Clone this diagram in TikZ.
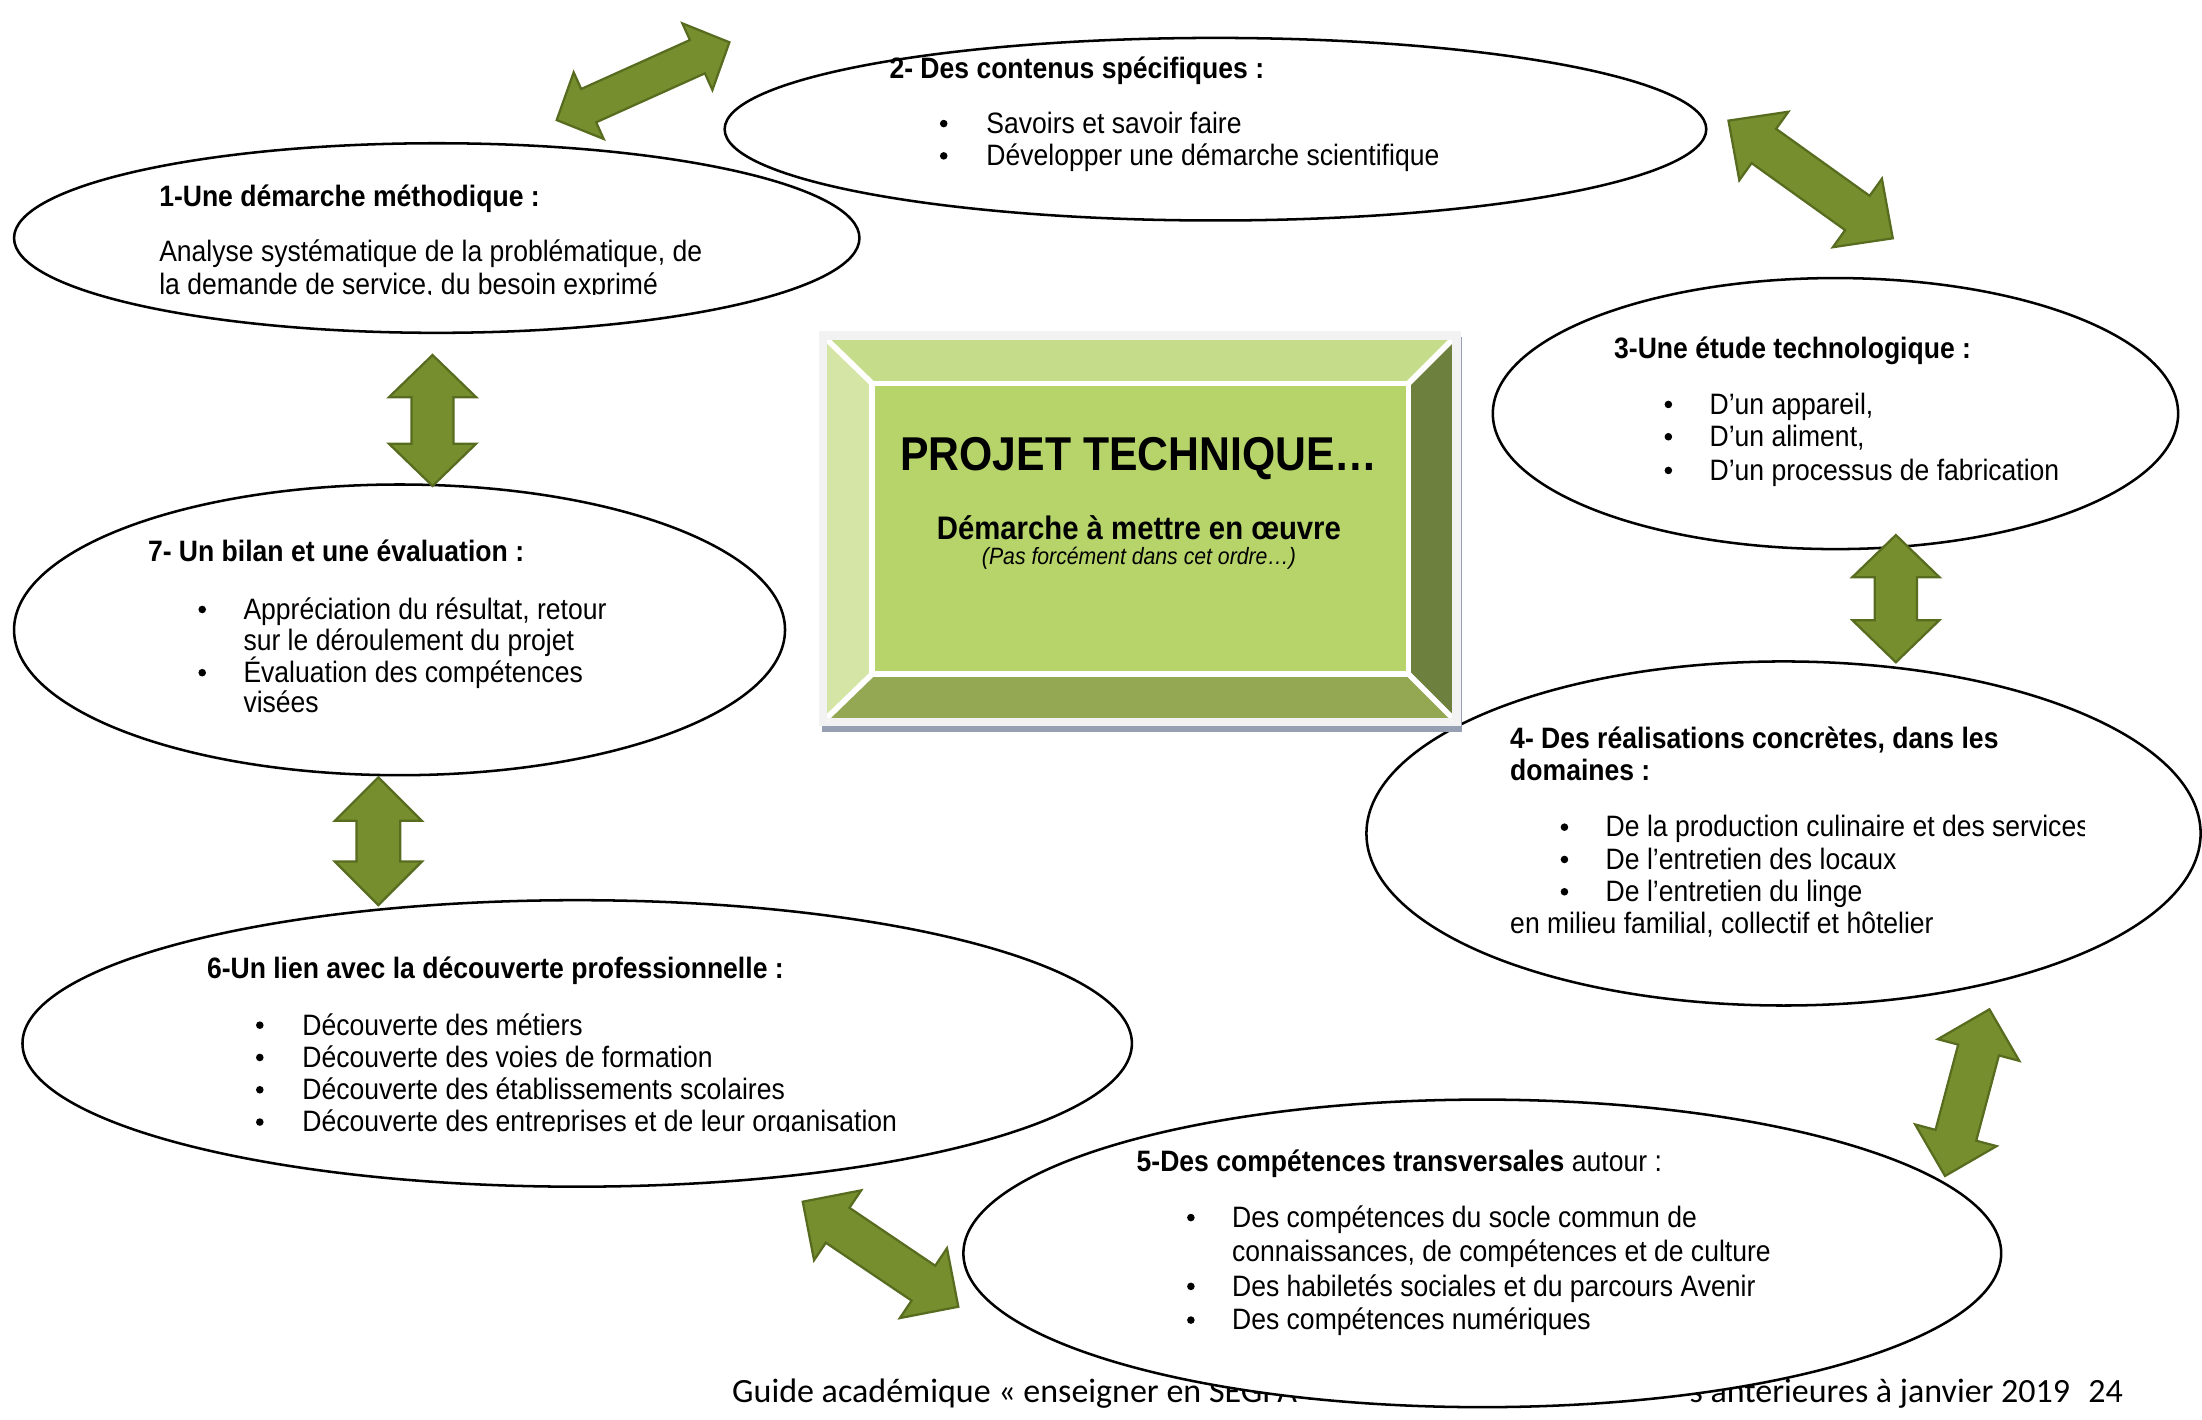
\documentclass[tikz,border=0pt]{standalone}
\usepackage{fontspec}
\setmainfont{Liberation Sans}[FakeStretch=0.9]
\newfontfamily\footfont{Carlito}
\usetikzlibrary{calc,shapes.geometric}

\definecolor{arrowfill}{RGB}{118,142,45}
\definecolor{arrowline}{RGB}{88,108,32}
\definecolor{bevtop}{RGB}{197,220,138}
\definecolor{bevleft}{RGB}{212,229,166}
\definecolor{bevright}{RGB}{110,128,62}
\definecolor{bevbottom}{RGB}{148,168,84}
\definecolor{bevface}{RGB}{182,212,106}
\definecolor{frameband}{RGB}{242,242,242}
\definecolor{frameshadow}{RGB}{150,160,178}

% double block arrow between two tips: #1,#2 tips, #3 head length, #4 half head width, #5 half shaft width
\newcommand\blockarrow[5]{%
  \coordinate (ba-p) at ($(#1)!#3!(#2)$);
  \coordinate (ba-q) at ($(#2)!#3!(#1)$);
  \filldraw[arrowstyle] (#1) -- ($(ba-p)!#4!90:(#2)$) -- ($(ba-p)!#5!90:(#2)$)
    -- ($(ba-q)!#5!-90:(#1)$) -- ($(ba-q)!#4!-90:(#1)$) -- (#2)
    -- ($(ba-q)!#4!90:(#1)$) -- ($(ba-q)!#5!90:(#1)$)
    -- ($(ba-p)!#5!-90:(#2)$) -- ($(ba-p)!#4!-90:(#2)$) -- cycle;}

\tikzset{
  bubble/.style={ellipse, draw=black, line width=0.9pt, fill=white, inner sep=0pt},
  arrowstyle/.style={fill=arrowfill, draw=arrowline, line width=0.8pt, line join=miter},
  txt/.style={anchor=base west, inner sep=0pt, font=\fontsize{10.5}{12}\selectfont},
  txtb/.style={anchor=base west, inner sep=0pt, font=\fontsize{10.5}{12}\selectfont\bfseries},
  bul/.style={circle, fill=black, inner sep=0pt, minimum size=2.7pt, yshift=3.5pt},
}

\begin{document}
\begin{tikzpicture}[x=0.5pt,y=-0.5pt]
\useasboundingbox (0,0) rectangle (1568,1011);
\fill[white] (0,0) rectangle (1568,1011);

% page footer, partly hidden behind bubble 5
\node[anchor=base west, inner sep=0pt, font=\footfont\fontsize{12.1}{14}\selectfont] (footl) at (521,999) {Guide académique « enseigner en SEGPA »};
\node[anchor=base east, inner sep=0pt, font=\footfont\fontsize{12.1}{14}\selectfont] (footr) at (1512,999) {s antérieures à janvier 2019\hspace{6.5pt}24};

% bubbles
\node[bubble, minimum width=301pt, minimum height=67.5pt] (e1) at (311,169.5) {};
\node[bubble, minimum width=349.5pt, minimum height=65pt] (e2) at (865.5,92) {};
\node[bubble, minimum width=244pt, minimum height=96.5pt] (e3) at (1307,294.5) {};
\node[bubble, minimum width=297pt, minimum height=122.5pt] (e4) at (1270,593.5) {};
\node[bubble, minimum width=369.5pt, minimum height=109.5pt] (e5) at (1055.5,892.5) {};
\node[bubble, minimum width=395pt, minimum height=102pt] (e6) at (411,743) {};
\node[bubble, minimum width=274.5pt, minimum height=103.5pt] (e7) at (284.5,448.5) {};

% 1
\node[txtb] (e1-t) at (113,147) {1-Une démarche méthodique :};
\node[txt] (e1-1) at (113,186) {Analyse systématique de la problématique, de};
\begin{scope}
  \clip (100,180) rectangle (560,210);
  \node[txt] (e1-2) at (113,210) {la demande de service, du besoin exprimé};
\end{scope}

% 2
\node[txtb] (e2-t) at (633,56) {2- Des contenus spécifiques :};
\node[bul] (e2-b1) at (672,95) {};
\node[txt] (e2-1) at (702,95) {Savoirs et savoir faire};
\node[bul] (e2-b2) at (672,118) {};
\node[txt] (e2-2) at (702,118) {Développer une démarche scientifique};

% 3
\node[txtb] (e3-t) at (1149,255) {3-Une étude technologique :};
\node[bul] (e3-b1) at (1188,295) {};
\node[txt] (e3-1) at (1217,295) {D’un appareil,};
\node[bul] (e3-b2) at (1188,318) {};
\node[txt] (e3-2) at (1217,318) {D’un aliment,};
\node[bul] (e3-b3) at (1188,342) {};
\node[txt] (e3-3) at (1217,342) {D’un processus de fabrication};

% 4
\node[txtb] (e4-t1) at (1075,533) {4- Des réalisations concrètes, dans les};
\node[txtb] (e4-t2) at (1075,556) {domaines :};
\node[bul] (e4-b1) at (1114,596) {};
\begin{scope}
  \clip (1130,570) rectangle (1484,605);
  \node[txt] (e4-1) at (1143,596) {De la production culinaire et des services};
\end{scope}
\node[bul] (e4-b2) at (1114,619) {};
\node[txt] (e4-2) at (1143,619) {De l’entretien des locaux};
\node[bul] (e4-b3) at (1114,642) {};
\node[txt] (e4-3) at (1143,642) {De l’entretien du linge};
\node[txt] (e4-4) at (1075,665) {en milieu familial, collectif et hôtelier};

% 5
\node[txt] (e5-t) at (809,834) {\bfseries 5-Des compétences transversales\mdseries{} autour :};
\node[bul] (e5-b1) at (848,874) {};
\node[txt] (e5-1) at (877,874) {Des compétences du socle commun de};
\node[txt] (e5-2) at (877,898) {connaissances, de compétences et de culture};
\node[bul] (e5-b3) at (848,923) {};
\node[txt] (e5-3) at (877,923) {Des habiletés sociales et du parcours Avenir};
\node[bul] (e5-b4) at (848,947) {};
\node[txt] (e5-4) at (877,947) {Des compétences numériques};

% 6
\node[txtb] (e6-t) at (147,697) {6-Un lien avec la découverte professionnelle :};
\node[bul] (e6-b1) at (185,737) {};
\node[txt] (e6-1) at (215,737) {Découverte des métiers};
\node[bul] (e6-b2) at (185,760) {};
\node[txt] (e6-2) at (215,760) {Découverte des voies de formation};
\node[bul] (e6-b3) at (185,783) {};
\node[txt] (e6-3) at (215,783) {Découverte des établissements scolaires};
\node[bul] (e6-b4) at (185,806) {};
\begin{scope}
  \clip (200,785) rectangle (700,806);
  \node[txt] (e6-4) at (215,806) {Découverte des entreprises et de leur organisation};
\end{scope}

% 7
\node[txtb] (e7-t) at (105,400) {7- Un bilan et une évaluation :};
\node[bul] (e7-b1) at (144,441) {};
\node[txt] (e7-1) at (173,441) {Appréciation du résultat, retour};
\node[txt] (e7-2) at (173,463) {sur le déroulement du projet};
\node[bul] (e7-b3) at (144,486) {};
\node[txt] (e7-3) at (173,486) {Évaluation des compétences};
\node[txt] (e7-4) at (173,507) {visées};

% central bevelled panel
\fill[frameshadow] (585,240) rectangle (1041,521);
\fill[frameband] (583,236) rectangle (1040,517);
\coordinate (o1) at (588,241); \coordinate (o2) at (1035,241);
\coordinate (o3) at (1035,512); \coordinate (o4) at (588,512);
\coordinate (i1) at (621,273); \coordinate (i2) at (1003,273);
\coordinate (i3) at (1003,480); \coordinate (i4) at (621,480);
\fill[bevtop] (o1) -- (o2) -- (i2) -- (i1) -- cycle;
\fill[bevleft] (o1) -- (i1) -- (i4) -- (o4) -- cycle;
\fill[bevright] (o2) -- (o3) -- (i3) -- (i2) -- cycle;
\fill[bevbottom] (o4) -- (i4) -- (i3) -- (o3) -- cycle;
\fill[bevface] (i1) rectangle (i3);
\draw[white, line width=2pt] (i1) rectangle (i3);
\draw[white, line width=2pt] (o1) -- (i1) (o2) -- (i2) (o3) -- (i3) (o4) -- (i4);
\draw[frameband, line width=1pt] (o1) rectangle (o3);

\node[anchor=base, inner sep=0pt, font=\fontsize{16.9}{18}\selectfont\bfseries] (title) at (811,335) {PROJET TECHNIQUE…};
\node[anchor=base, inner sep=0pt, font=\fontsize{11.6}{13}\selectfont\bfseries] (sub) at (811,384) {Démarche à mettre en œuvre};
\node[anchor=base, inner sep=0pt, font=\fontsize{8.4}{10}\selectfont\itshape] (note) at (811,402) {(Pas forcément dans cet ordre…)};

% arrows between the bubbles
\coordinate (a12a) at (396.4,85.5);  \coordinate (a12b) at (519.4,30.1);
\coordinate (a23a) at (1230.8,85.9); \coordinate (a23b) at (1347.8,169.7);
\coordinate (a34a) at (1350,381);    \coordinate (a34b) at (1350,471.6);
\coordinate (a45a) at (1416.6,718.7);\coordinate (a45b) at (1385,837.4);
\coordinate (a56a) at (571.6,855.7); \coordinate (a56b) at (682.4,930.5);
\coordinate (a67a) at (269.4,553.5); \coordinate (a67b) at (269.4,644.5);
\coordinate (a71a) at (308,252.8);   \coordinate (a71b) at (308,346);
\blockarrow{a12a}{a12b}{12.5pt}{13pt}{6.5pt}
\blockarrow{a23a}{a23b}{15.5pt}{15pt}{7.5pt}
\blockarrow{a34a}{a34b}{15pt}{15.5pt}{7.5pt}
\blockarrow{a45a}{a45b}{15pt}{15pt}{7.5pt}
\blockarrow{a56a}{a56b}{15pt}{15pt}{7.5pt}
\blockarrow{a67a}{a67b}{15.5pt}{15.5pt}{7.8pt}
\blockarrow{a71a}{a71b}{15pt}{15.5pt}{7.5pt}
\end{tikzpicture}
\end{document}
